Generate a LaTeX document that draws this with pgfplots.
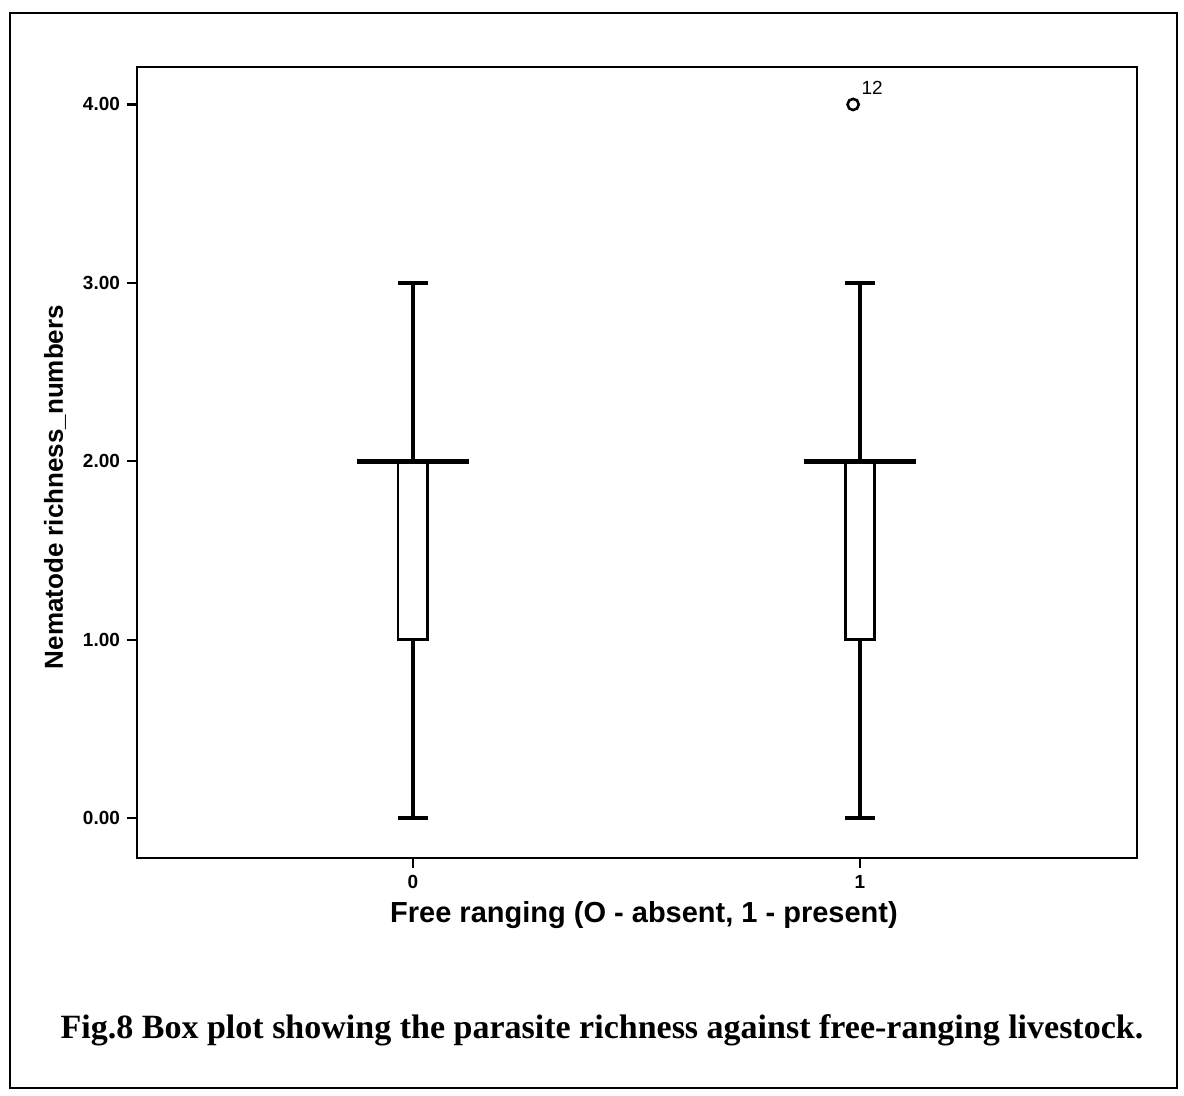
\documentclass[border=0pt]{standalone}
\usepackage{pgfplots}
\pgfplotsset{compat=1.18}
\usepgfplotslibrary{statistics}
\usepackage{fontspec}
\setmainfont{Liberation Serif}
\newfontfamily\labfont{Liberation Sans}
\begin{document}
\begin{tikzpicture}
\path[use as bounding box] (-68.5pt,-119pt) rectangle (523.5pt,429pt);
\draw[line width=1.3pt] (-63.5pt,-115pt) rectangle (520pt,422.5pt);
\begin{axis}[
  at={(0pt,0pt)}, anchor=south west,
  scale only axis, width=500pt, height=395.5pt,
  xmin=-0.617, xmax=1.62, ymin=-0.224, ymax=4.21,
  axis line style={line width=1.2pt},
  xtick={0,1}, xticklabels={0,1},
  ytick={0,1,2,3,4},
  yticklabel style={/pgf/number format/.cd, fixed, fixed zerofill, precision=2},
  /pgf/number format/assume math mode=true,
  tick style={line width=1.1pt, black},
  tick align=outside, major tick length=5pt,
  xtick pos=bottom, ytick pos=left,
  ticklabel style={font=\labfont\bfseries\fontsize{9.5}{11}\selectfont},
  xlabel={Free ranging (O - absent, 1 - present)},
  ylabel={Nematode richness\_numbers},
  xlabel style={font=\labfont\bfseries\fontsize{14.5}{16}\selectfont, at={(axis description cs:0.507,-0.072)}, anchor=center},
  ylabel style={font=\labfont\bfseries\fontsize{13}{15}\selectfont, at={(axis description cs:-0.082,0.469)}, anchor=center},
  boxplot/draw direction=y,
  clip=false,
]
% boxes
\addplot[black, line width=1.2pt, boxplot prepared={draw position=0, lower whisker=0, lower quartile=1, median=2, upper quartile=2, upper whisker=3, box extend=0.065, whisker extend=0.068},
  boxplot/every whisker/.style={line width=2pt}] coordinates {};
\addplot[black, line width=1.2pt, boxplot prepared={draw position=1, lower whisker=0, lower quartile=1, median=2, upper quartile=2, upper whisker=3, box extend=0.065, whisker extend=0.068},
  boxplot/every whisker/.style={line width=2pt}] coordinates {};
% medians (thick, wider than box)
\addplot[black, line width=2.6pt] coordinates {(-0.125,2) (0.125,2)};
\addplot[black, line width=2.6pt] coordinates {(0.875,2) (1.125,2)};
% outlier
\addplot[only marks, mark=o, mark size=2.8pt, mark options={line width=1.3pt, black},
  point meta=explicit symbolic, nodes near coords,
  every node near coord/.append style={anchor=center, xshift=9.5pt, yshift=8.5pt, font=\labfont\fontsize{9.5}{11}\selectfont}]
  coordinates {(0.985,4) [12]};
\end{axis}
\node[font=\bfseries\fontsize{17}{19}\selectfont] at (232.5pt,-86pt) {Fig.8 Box plot showing the parasite richness against free-ranging livestock.};
\end{tikzpicture}
\end{document}
